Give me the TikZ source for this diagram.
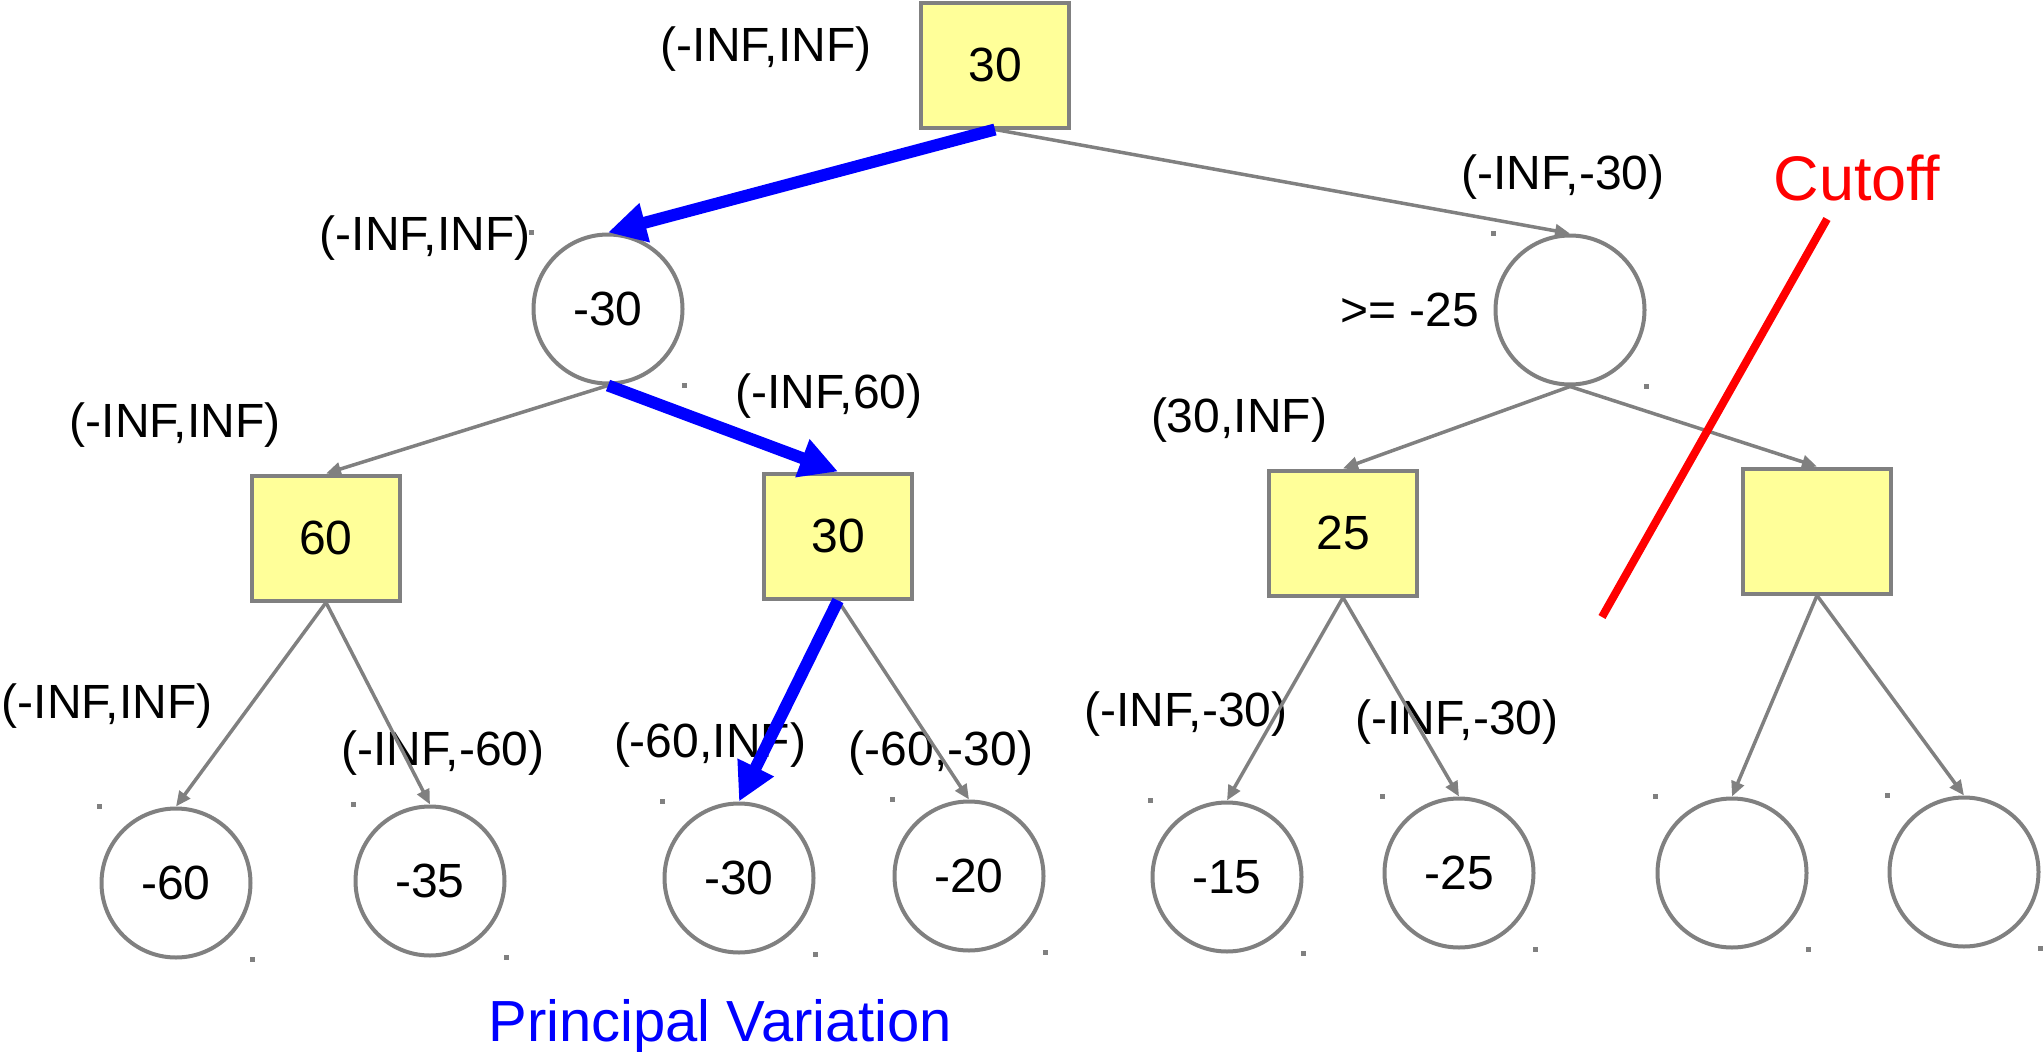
\documentclass[tikz,border=0pt]{standalone}
\usepackage{fontspec}
\setmainfont{Liberation Sans}
\usetikzlibrary{arrows.meta}
\definecolor{edgegray}{RGB}{128,128,128}
\definecolor{maxfill}{RGB}{255,255,153}
\definecolor{pvblue}{RGB}{0,0,255}
\definecolor{cutred}{RGB}{255,0,0}
\newcommand\treefont{\fontsize{48}{58}\selectfont}
\newcommand\notefont{\fontsize{63}{75}\selectfont}
\newcommand\pvfont{\fontsize{58}{70}\selectfont}
\tikzset{
  maxnode/.style={draw=edgegray,fill=maxfill,line width=4pt,minimum width=148pt,minimum height=125pt,inner sep=0pt,font=\treefont},
  minnode/.style={circle,draw=edgegray,line width=4pt,minimum size=149pt,inner sep=0pt,font=\treefont},
  win/.style={inner sep=0pt,font=\treefont},
  arr/.style={-{Triangle[length=15pt,width=13pt]},line width=3.5pt,draw=edgegray},
  pvarr/.style={-{Triangle[length=38pt,width=38pt]},line width=12pt,draw=pvblue},
  cutline/.style={line width=8pt,draw=cutred},
  speck/.style={fill=edgegray}
}
% little gray specks at two corners of a circle's box
\newcommand\specks[1]{%
  \fill[speck] (#1.west |- #1.north) ++(-2.5,-2.5) rectangle ++(5,5);
  \fill[speck] (#1.east |- #1.south) ++(-2.5,-2.5) rectangle ++(5,5);}

\begin{document}
\begin{tikzpicture}[x=1pt,y=-1pt]
  \useasboundingbox (0,0) rectangle (2043,1052);

  % max / min levels
  \node[maxnode] (root) at (995,65) {30};
  \node[minnode] (a) at (608,309) {-30};
  \node[minnode] (b) at (1570,310) {};
  \node[maxnode] (a1) at (326,538) {60};
  \node[maxnode] (a2) at (838,536) {30};
  \node[maxnode] (b1) at (1343,533) {25};
  \node[maxnode] (b2) at (1817,531) {};

  % leaves
  \node[minnode] (a11) at (176,883) {-60};
  \node[minnode] (a12) at (430,881) {-35};
  \node[minnode] (a21) at (739,878) {-30};
  \node[minnode] (a22) at (969,876) {-20};
  \node[minnode] (b11) at (1227,877) {-15};
  \node[minnode] (b12) at (1459,873) {-25};
  \node[minnode] (b21) at (1732,873) {};
  \node[minnode] (b22) at (1964,872) {};

  \foreach \n in {a,b,a11,a12,a21,a22,b11,b12,b21,b22} {\specks{\n}}

  % windows
  \node[win] (wroot) at (766,49) {(-INF,INF)};
  \node[win] (wa) at (425,238) {(-INF,INF)};
  \node[win] (wb) at (1563,177) {(-INF,-30)};
  \node[win] (vb) at (1410,310) {>= -25};
  \node[win] (wa1) at (175,425) {(-INF,INF)};
  \node[win] (wa2) at (829,396) {(-INF,60)};
  \node[win] (wb1) at (1239,420) {(30,INF)};
  \node[win] (wa11) at (107,706) {(-INF,INF)};
  \node[win] (wa12) at (443,753) {(-INF,-60)};
  \node[win] (wa21) at (710,745) {(-60,INF)};
  \node[win] (wa22) at (941,753) {(-60,-30)};
  \node[win] (wb11) at (1186,714) {(-INF,-30)};
  \node[win] (wb12) at (1457,722) {(-INF,-30)};

  % edges
  \draw[arr] (root.south) -- (b.north);
  \draw[arr] (a.south) -- (a1.north);
  \draw[arr] (b.south) -- (b1.north);
  \draw[arr] (b.south) -- (b2.north);
  \draw[arr] (a1.south) -- (a11.north);
  \draw[arr] (a1.south) -- (a12.north);
  \draw[arr] (a2.south) -- (a22.north);
  \draw[arr] (b1.south) -- (b11.north);
  \draw[arr] (b1.south) -- (b12.north);
  \draw[arr] (b2.south) -- (b21.north);
  \draw[arr] (b2.south) -- (b22.north);
  \draw[pvarr] (root.south) -- (a.north);
  \draw[pvarr] (a.south) -- (a2.north);
  \draw[pvarr] (a2.south) -- (a21.north);

  % cutoff
  \coordinate (cuttop) at (1827,219);
  \coordinate (cutbot) at (1602,617);
  \draw[cutline] (cuttop) -- (cutbot);
  \node[inner sep=0pt,font=\notefont,text=cutred] (cutoff) at (1857,178) {Cutoff};
  \node[inner sep=0pt,font=\pvfont,text=pvblue] (pv) at (720,1026) {Principal Variation};
\end{tikzpicture}
\end{document}
